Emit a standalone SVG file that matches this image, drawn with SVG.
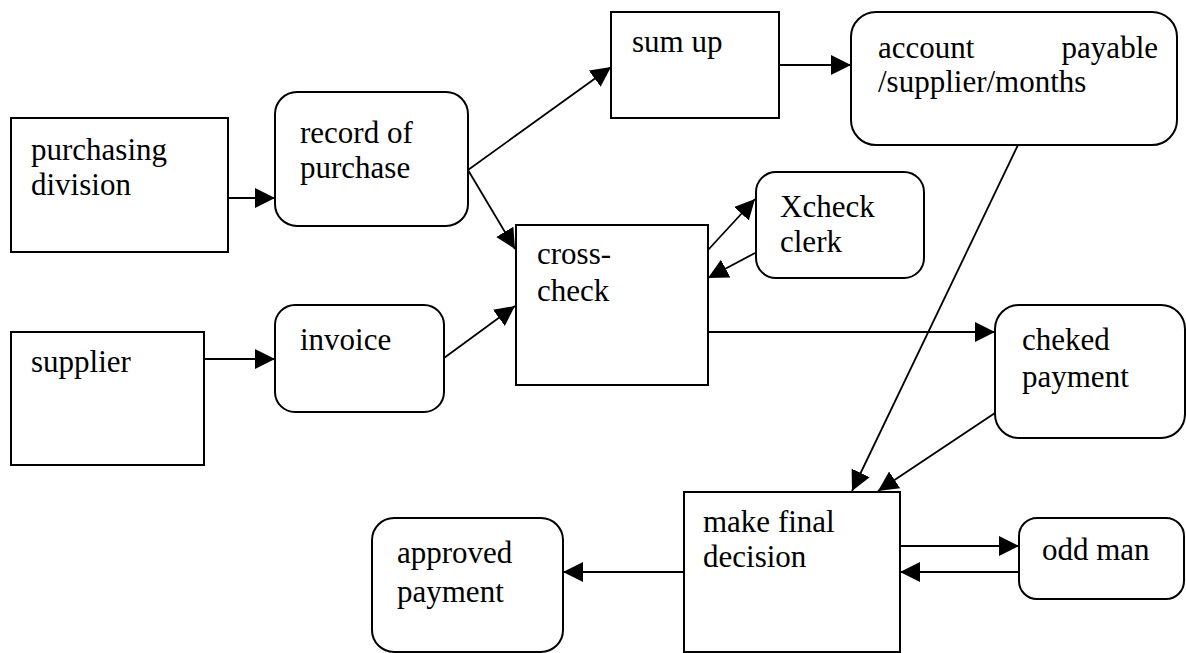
<svg xmlns="http://www.w3.org/2000/svg" width="1186" height="653" viewBox="0 0 1186 653">
  <style>
    .box { fill: #fff; stroke: #000; stroke-width: 2; }
    .lbl { font-family: "Liberation Serif", "Times New Roman", serif; font-size: 31px; fill: #000; }
    .edge { stroke: #000; stroke-width: 1.8; fill: none; marker-end: url(#arrow); }
  </style>
  <defs>
    <!-- solid triangular arrowhead, tip on the line end -->
    <marker id="arrow" markerUnits="userSpaceOnUse" markerWidth="21" markerHeight="21" refX="20" refY="10" orient="auto">
      <path d="M0,0 L20,10 L0,20 z" fill="#000"/>
    </marker>
  </defs>

  <g id="connectors">
    <line class="edge" x1="228" y1="198" x2="275" y2="198"/>
    <line class="edge" x1="468" y1="170" x2="611" y2="67"/>
    <line class="edge" x1="468" y1="170" x2="515" y2="249"/>
    <line class="edge" x1="779" y1="65" x2="851" y2="65"/>
    <line class="edge" x1="204" y1="359" x2="275" y2="359"/>
    <line class="edge" x1="444" y1="358" x2="515" y2="306"/>
    <line class="edge" x1="708" y1="250" x2="755" y2="199"/>
    <line class="edge" x1="755" y1="253" x2="708" y2="278"/>
    <line class="edge" x1="708" y1="332" x2="995" y2="332"/>
    <line class="edge" x1="1018" y1="145" x2="852" y2="491"/>
    <line class="edge" x1="995" y1="413" x2="878" y2="491"/>
    <line class="edge" x1="900" y1="546" x2="1019" y2="546"/>
    <line class="edge" x1="1019" y1="572" x2="900" y2="572"/>
    <line class="edge" x1="684" y1="572" x2="563" y2="572"/>
  </g>

  <g id="purchasing-division">
    <rect class="box" x="11" y="118" width="217" height="134"/>
    <text class="lbl" x="31" y="160">purchasing</text>
    <text class="lbl" x="31" y="195">division</text>
  </g>

  <g id="record-of-purchase">
    <rect class="box" x="275" y="92" width="193" height="134" rx="22"/>
    <text class="lbl" x="300" y="143">record of</text>
    <text class="lbl" x="300" y="178">purchase</text>
  </g>

  <g id="sum-up">
    <rect class="box" x="611" y="12" width="168" height="106"/>
    <text class="lbl" x="632" y="52">sum up</text>
  </g>

  <g id="account-payable">
    <rect class="box" x="851" y="12" width="326" height="133" rx="25"/>
    <text class="lbl" x="878" y="58">account</text>
    <text class="lbl" x="1158" y="58" text-anchor="end">payable</text>
    <text class="lbl" x="878" y="92">/supplier/months</text>
  </g>

  <g id="cross-check">
    <rect class="box" x="516" y="225" width="192" height="160"/>
    <text class="lbl" x="537" y="264">cross-</text>
    <text class="lbl" x="537" y="301">check</text>
  </g>

  <g id="xcheck-clerk">
    <rect class="box" x="756" y="172" width="168" height="106" rx="20"/>
    <text class="lbl" x="780" y="217">Xcheck</text>
    <text class="lbl" x="780" y="252">clerk</text>
  </g>

  <g id="supplier">
    <rect class="box" x="11" y="332" width="193" height="133"/>
    <text class="lbl" x="31" y="372">supplier</text>
  </g>

  <g id="invoice">
    <rect class="box" x="275" y="305" width="169" height="107" rx="20"/>
    <text class="lbl" x="300" y="350">invoice</text>
  </g>

  <g id="cheked-payment">
    <rect class="box" x="995" y="305" width="190" height="133" rx="24"/>
    <text class="lbl" x="1022" y="350">cheked</text>
    <text class="lbl" x="1022" y="387">payment</text>
  </g>

  <g id="make-final-decision">
    <rect class="box" x="684" y="492" width="216" height="160"/>
    <text class="lbl" x="703" y="532">make final</text>
    <text class="lbl" x="703" y="567">decision</text>
  </g>

  <g id="odd-man">
    <rect class="box" x="1019" y="518" width="165" height="81" rx="18"/>
    <text class="lbl" x="1042" y="560">odd man</text>
  </g>

  <g id="approved-payment">
    <rect class="box" x="372" y="518" width="191" height="134" rx="22"/>
    <text class="lbl" x="397" y="563">approved</text>
    <text class="lbl" x="397" y="602">payment</text>
  </g>
</svg>
